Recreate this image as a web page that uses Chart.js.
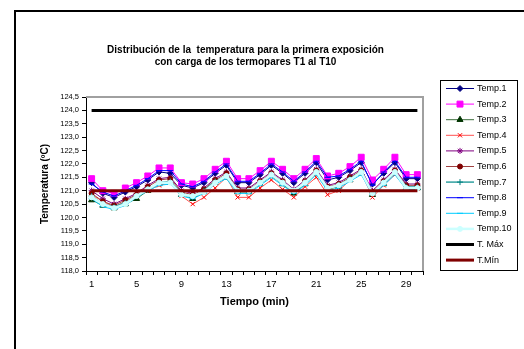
<!DOCTYPE html>
<html><head><meta charset="utf-8">
<script src="https://cdn.jsdelivr.net/npm/chart.js@4/dist/chart.umd.min.js"></script>
<style>
html,body{margin:0;padding:0;background:#fff;width:524px;height:349px;overflow:hidden;}
#frame{position:absolute;left:14px;top:10px;width:520px;height:345px;border-left:2px solid #000;border-top:2px solid #000;}
#c{position:absolute;left:0;top:0;}
</style></head><body>
<div id="frame"></div>
<canvas id="c" width="524" height="349"></canvas>
<script>
const categories = ['1','2','3','4','5','6','7','8','9','10','11','12','13','14','15','16','17','18','19','20','21','22','23','24','25','26','27','28','29','30'];
const xTickLabels = ['1','5','9','13','17','21','25','29'];
const titleLines = ['Distribución de la  temperatura para la primera exposición','con carga de los termopares T1 al T10'];
const seriesNames = ['Temp.1','Temp.2','Temp.3','Temp.4','Temp.5','Temp.6','Temp.7','Temp.8','Temp.9','Temp.10','T. Máx','T.Mín'];

const temp1 = [121.3,120.9,120.75,120.95,121.15,121.4,121.7,121.65,121.2,121.1, 121.3,121.65,121.95,121.3,121.3,121.6,121.95,121.65,121.3,121.65, 122.05,121.4,121.5,121.75,122.05,121.25,121.65,122.05,121.45,121.45];
const temp2 = [121.45,121.0,120.9,121.1,121.3,121.55,121.85,121.85,121.3,121.25, 121.45,121.8,122.1,121.45,121.45,121.75,122.1,121.8,121.45,121.8, 122.2,121.55,121.65,121.9,122.25,121.4,121.8,122.25,121.6,121.6];
const temp3 = [120.65,120.45,120.35,120.5,120.7,121.0,121.25,121.3,120.85,120.7, 120.95,121.3,121.5,120.95,120.95,121.25,121.55,121.25,120.9,121.25, 121.65,121.05,121.15,121.4,121.65,120.85,121.25,121.65,121.1,121.1];
const temp4 = [120.85,120.6,120.4,120.6,120.8,121.0,121.2,121.3,120.8,120.5, 120.75,121.1,121.5,120.75,120.75,121.1,121.4,121.05,120.75,121.15, 121.5,120.85,121.0,121.4,121.7,120.75,121.2,121.6,121.1,121.1];
const temp5 = [121.0,120.7,120.5,120.7,120.9,121.2,121.45,121.5,121.0,120.9, 121.1,121.45,121.7,121.1,121.1,121.4,121.7,121.4,121.05,121.4, 121.8,121.2,121.3,121.55,121.8,121.0,121.4,121.8,121.25,121.25];
const temp6 = [120.9,120.6,120.45,120.65,120.85,121.15,121.4,121.45,120.95,120.85, 121.05,121.4,121.65,121.05,121.05,121.35,121.65,121.35,121.0,121.35, 121.75,121.15,121.25,121.5,121.75,120.95,121.35,121.75,121.2,121.2];
const temp7 = [120.8,120.5,120.4,120.55,120.8,121.05,121.3,121.35,120.9,120.75, 121.0,121.35,121.55,121.0,121.0,121.3,121.6,121.3,120.95,121.3, 121.7,121.1,121.2,121.45,121.7,120.9,121.3,121.7,121.15,121.15];
const temp8 = [121.25,120.95,120.8,121.0,121.2,121.45,121.75,121.75,121.25,121.15, 121.35,121.7,122.0,121.35,121.35,121.65,122.0,121.7,121.35,121.7, 122.1,121.5,121.55,121.8,122.1,121.2,121.7,122.1,121.5,121.5];
const temp9 = [120.7,120.4,120.3,120.45,120.75,121.0,121.2,121.25,120.8,120.7, 120.9,121.25,121.45,120.9,120.9,121.2,121.5,121.2,120.9,121.2, 121.6,121.0,121.1,121.35,121.6,120.85,121.2,121.6,121.05,121.05];
const temp10 = [120.75,120.5,120.35,120.5,120.8,121.05,121.3,121.3,120.85,120.8, 120.95,121.3,121.55,121.0,121.0,121.3,121.6,121.3,121.0,121.3, 121.7,121.1,121.2,121.4,121.7,120.9,121.3,121.7,121.1,121.1];
const tMax = [124.0,124.0,124.0,124.0,124.0,124.0,124.0,124.0,124.0,124.0, 124.0,124.0,124.0,124.0,124.0,124.0,124.0,124.0,124.0,124.0, 124.0,124.0,124.0,124.0,124.0,124.0,124.0,124.0,124.0,124.0];
const tMin = [121.0,121.0,121.0,121.0,121.0,121.0,121.0,121.0,121.0,121.0, 121.0,121.0,121.0,121.0,121.0,121.0,121.0,121.0,121.0,121.0, 121.0,121.0,121.0,121.0,121.0,121.0,121.0,121.0,121.0,121.0];
const yMin = 118.0, yMax = 124.5, yStep = 0.5;

const FONT = "'Liberation Sans', Arial, sans-serif";
const seriesData = [temp1,temp2,temp3,temp4,temp5,temp6,temp7,temp8,temp9,temp10,tMax,tMin];
const styles = [
  {line:'#000080', fill:'#000080', pt:'rectRot', r:3, w:1},
  {line:'#FF00FF', fill:'#FF00FF', pt:'rect', r:4.2, w:1},
  {line:'#3C6E3C', fill:'#003300', pt:'triangle', r:3.5, w:1},
  {line:'#FF5050', fill:'#FF0000', pt:'crossRot', r:3, w:1},
  {line:'#800080', fill:'#800080', pt:'star', r:3, w:1},
  {line:'#A04040', fill:'#800000', pt:'circle', r:2.5, w:1},
  {line:'#30A0A0', fill:'#008080', pt:'cross', r:3, w:1.5},
  {line:'#0000FF', fill:'#0000FF', pt:'line', r:3, w:1},
  {line:'#00CCFF', fill:'#00CCFF', pt:'line', r:3, w:1},
  {line:'#CCFFFF', fill:'#CCFFFF', pt:'circle', r:2.5, w:2.5},
  {line:'#000000', fill:'#000000', pt:false, r:0, w:3},
  {line:'#800000', fill:'#800000', pt:false, r:0, w:3}
];

const datasets = seriesNames.map((name,k)=>({
  label: name,
  data: seriesData[k],
  borderColor: styles[k].line,
  backgroundColor: styles[k].fill,
  pointBorderColor: styles[k].fill,
  pointBackgroundColor: styles[k].fill,
  pointStyle: styles[k].pt,
  pointRadius: styles[k].r,
  pointBorderWidth: 1,
  borderWidth: styles[k].w,
  tension: 0,
  fill: false,
  order: -k
}));

const decor = {
  id:'decor',
  afterLayout(chart){
    const t = chart.titleBlock;
    if (t){ t.left = 0; t.right = 491; t.width = 491; }
  },
  beforeDatasetsDraw(chart){
    const {ctx, chartArea:a} = chart;
    ctx.save();
    ctx.strokeStyle = '#a0a0a0'; ctx.lineWidth = 2;
    ctx.beginPath();
    ctx.moveTo(a.left, a.top); ctx.lineTo(a.right, a.top); ctx.lineTo(a.right, a.bottom);
    ctx.stroke();
    ctx.restore();
  },
  afterDraw(chart){
    const ctx = chart.ctx;
    ctx.save();
    ctx.strokeStyle = '#000'; ctx.lineWidth = 1;
    ctx.strokeRect(440.5, 80.5, 77, 190);
    ctx.font = "9px " + FONT;
    ctx.textBaseline = 'middle';
    ctx.textAlign = 'left';
    chart.data.datasets.forEach((ds,i)=>{
      const y = 88.5 + i*15.6;
      ctx.strokeStyle = ds.borderColor;
      ctx.lineWidth = ds.borderWidth;
      ctx.beginPath(); ctx.moveTo(446, y); ctx.lineTo(474, y); ctx.stroke();
      if (ds.pointStyle){
        ctx.fillStyle = ds.pointBackgroundColor;
        ctx.strokeStyle = ds.pointBorderColor;
        ctx.lineWidth = 1;
        Chart.helpers.drawPoint(ctx, {pointStyle: ds.pointStyle, radius: ds.pointRadius, rotation: 0, borderWidth: 1}, 460, y);
      }
      ctx.fillStyle = '#000';
      ctx.fillText(ds.label, 477, y);
    });
    ctx.restore();
  }
};

new Chart(document.getElementById('c'), {
  type:'line',
  data:{ labels: categories, datasets },
  plugins:[decor],
  options:{
    responsive:false,
    animation:false,
    events:[],
    layout:{ padding:{ left:0, right:101, top:0, bottom:0 } },
    plugins:{
      legend:{ display:false },
      tooltip:{ enabled:false },
      title:{ display:true, text:titleLines, color:'#000', font:{ family:FONT, size:10, weight:'bold', lineHeight:1.2 }, padding:{ top:44, bottom:29 } }
    },
    scales:{
      x:{
        offset:true,
        grid:{ offset:true, drawOnChartArea:false, drawTicks:true, tickLength:4, color:'#000', tickColor:'#000', lineWidth:1 },
        border:{ color:'#000', width:1 },
        ticks:{ autoSkip:false, maxRotation:0, color:'#000', padding:4, font:{ family:FONT, size:9.5 },
          callback(v){ const l = this.getLabelForValue(v); return xTickLabels.includes(l) ? l : ''; } },
        title:{ display:true, text:'Tiempo (min)', color:'#000', font:{ family:FONT, size:11, weight:'bold' }, padding:{ top:0, bottom:40 } },
        afterFit(s){ s.height = 78; }
      },
      y:{
        min:yMin, max:yMax,
        grid:{ drawOnChartArea:false, drawTicks:true, tickLength:4, color:'#000', tickColor:'#000' },
        border:{ color:'#000', width:1 },
        ticks:{ stepSize:yStep, color:'#000', padding:3, font:{ family:FONT, size:7.5 },
          callback(v){ return Number(v).toFixed(1).replace('.', ','); } },
        title:{ display:true, text:'Temperatura (ºC)', color:'#000', font:{ family:FONT, size:10, weight:'bold' }, padding:{ top:39, bottom:0 } },
        afterFit(s){ s.width = 86; }
      }
    }
  }
});
</script>
</body></html>
